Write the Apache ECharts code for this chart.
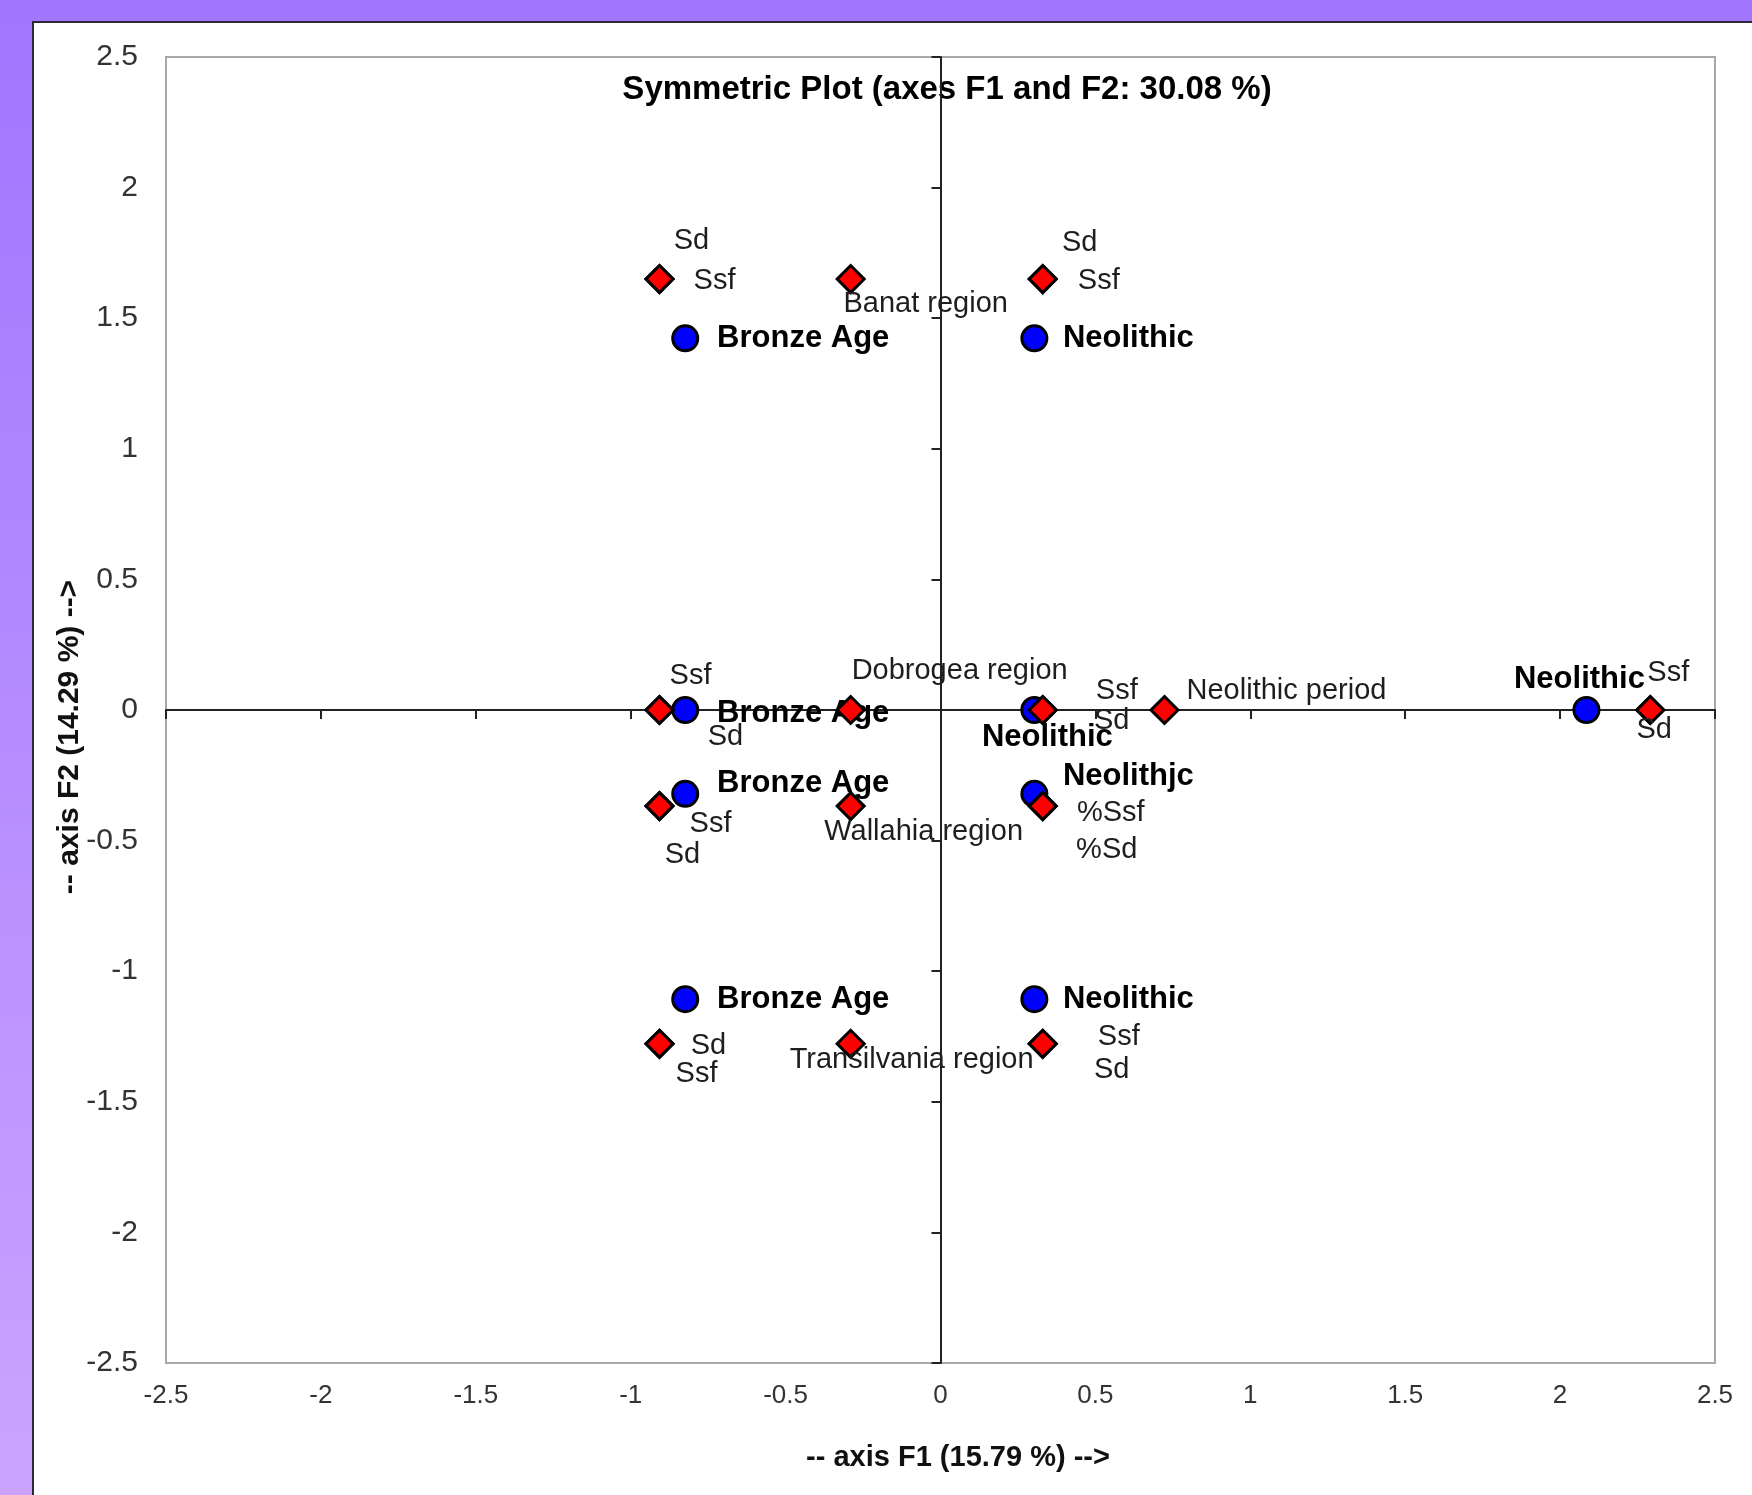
<!DOCTYPE html>
<html>
<head>
<meta charset="utf-8">
<script src="https://cdn.jsdelivr.net/npm/echarts@6/dist/echarts.min.js"></script>
<style>
html, body { margin: 0; padding: 0; }
#chart { width: 1752px; height: 1495px; }
</style>
</head>
<body>
<div id="chart"></div>
<script>
// axis ticks
const xTicks = [-2.5, -2, -1.5, -1, -0.5, 0, 0.5, 1, 1.5, 2, 2.5]
const yTicks = [-2.5, -2, -1.5, -1, -0.5, 0, 0.5, 1, 1.5, 2, 2.5]

// variables (red diamonds)
const diamondNames = [
  'Sd', 'Ssf', 'Banat region', 'Sd', 'Ssf',
  'Ssf', 'Sd', 'Dobrogea region', 'Ssf', 'Sd', 'Neolithic period', 'Ssf', 'Sd',
  'Ssf', 'Sd', 'Wallahia region', '%Ssf', '%Sd',
  'Sd', 'Ssf', 'Transilvania region', 'Ssf', 'Sd'
]
const diamondX = [
  -0.907, -0.907, -0.29, 0.33, 0.33,
  -0.907, -0.907, -0.29, 0.33, 0.33, 0.723, 2.291, 2.291,
  -0.907, -0.907, -0.29, 0.33, 0.33,
  -0.907, -0.907, -0.29, 0.33, 0.33
]
const diamondY = [
  1.65, 1.65, 1.65, 1.65, 1.65,
  0, 0, 0, 0, 0, 0, 0, 0,
  -0.368, -0.368, -0.368, -0.368, -0.368,
  -1.278, -1.278, -1.278, -1.278, -1.278
]

// observations (blue circles)
const circleNames = [
  'Bronze Age', 'Neolithic',
  'Bronze Age', 'Neolithic', 'Neolithic',
  'Bronze Age', 'Neolithjc',
  'Bronze Age', 'Neolithic'
]
const circleX = [-0.824, 0.303, -0.824, 0.303, 2.085, -0.824, 0.303, -0.824, 0.303]
const circleY = [1.423, 1.423, 0, 0, 0, -0.321, -0.321, -1.107, -1.107]

// label placement (pixels from marker centre)
const diamondLabelOffsets = [
  [32, -38], [55, 2], [75, 25], [37, -36], [56, 2],
  [31, -34], [66, 27], [109, -39], [74, -19], [69, 11], [122, -19], [18, -37], [4, 20],
  [51, 18], [23, 49], [73, 26], [68, 7], [64, 44],
  [49, 2], [37, 30], [61, 16], [76, -7], [69, 26]
]
const circleLabelOffsets = [
  [118, 0], [94, 0],
  [118, 3], [13, 27], [-7, -31],
  [118, -10], [94, -17],
  [118, 0], [94, 0]
]

const FONT = "'Liberation Sans', Arial, sans-serif"

function buildData (xs, ys, names, offsets) {
  return xs.map((x, i) => ({
    value: [x, ys[i]],
    name: names[i],
    label: { offset: offsets[i] }
  }))
}

const chart = echarts.init(document.getElementById('chart'))

chart.setOption({
  animation: false,
  backgroundColor: {
    type: 'linear', x: 0, y: 0, x2: 0, y2: 1,
    colorStops: [{ offset: 0, color: '#a176ff' }, { offset: 1, color: '#cba3ff' }]
  },
  graphic: [
    {
      type: 'rect',
      z: -10,
      shape: { x: 33, y: 22, width: 1760, height: 1500 },
      style: { fill: '#ffffff', stroke: '#2c2838', lineWidth: 2 }
    },
    {
      type: 'text',
      x: 947,
      y: 90,
      style: {
        text: 'Symmetric Plot (axes F1 and F2: 30.08 %)',
        font: 'bold 33px ' + FONT,
        fill: '#000',
        align: 'center',
        verticalAlign: 'middle'
      }
    },
    {
      // x axis title
      type: 'text',
      x: 958,
      y: 1458,
      style: {
        text: '-- axis F1 (15.79 %) -->',
        font: 'bold 29px ' + FONT,
        fill: '#111',
        align: 'center',
        verticalAlign: 'middle'
      }
    },
    {
      // y axis title
      type: 'text',
      x: 70,
      y: 737,
      rotation: Math.PI / 2,
      style: {
        text: '-- axis F2 (14.29 %) -->',
        font: 'bold 30px ' + FONT,
        fill: '#111',
        align: 'center',
        verticalAlign: 'middle'
      }
    }
  ],
  grid: {
    left: 166, top: 57, width: 1549, height: 1306,
    show: true, borderColor: '#a8a8a8', borderWidth: 2,
    backgroundColor: 'transparent'
  },
  xAxis: [
    {
      type: 'value', min: -2.5, max: 2.5, interval: 0.5, position: 'bottom',
      axisLine: { show: false, onZero: false },
      axisTick: { show: false },
      splitLine: { show: false },
      axisLabel: { fontFamily: FONT, fontSize: 26, color: '#333', margin: 20 }
    },
    {
      type: 'value', min: -2.5, max: 2.5, interval: 0.5, position: 'bottom',
      axisLine: { show: true, onZero: true, onZeroAxisIndex: 0, lineStyle: { color: '#222', width: 2 } },
      axisTick: { show: true, length: 9, lineStyle: { color: '#222', width: 2 } },
      axisLabel: { show: false },
      splitLine: { show: false }
    }
  ],
  yAxis: [
    {
      type: 'value', min: -2.5, max: 2.5, interval: 0.5, position: 'left',
      axisLine: { show: false, onZero: false },
      axisTick: { show: false },
      splitLine: { show: false },
      axisLabel: { fontFamily: FONT, fontSize: 30, color: '#333', margin: 28 }
    },
    {
      type: 'value', min: -2.5, max: 2.5, interval: 0.5, position: 'left',
      axisLine: { show: true, onZero: true, onZeroAxisIndex: 0, lineStyle: { color: '#222', width: 2 } },
      axisTick: { show: true, length: 9, lineStyle: { color: '#222', width: 2 } },
      axisLabel: { show: false },
      splitLine: { show: false }
    }
  ],
  series: [
    {
      name: 'Observations',
      type: 'scatter',
      xAxisIndex: 0, yAxisIndex: 0,
      z: 3,
      symbol: 'circle',
      symbolSize: 25,
      itemStyle: { color: '#0000ff', borderColor: '#000', borderWidth: 3, opacity: 1 },
      label: {
        show: true, position: 'inside', formatter: '{b}',
        fontFamily: FONT, fontWeight: 'bold', fontSize: 31, color: '#000',
        align: 'center', verticalAlign: 'middle'
      },
      data: buildData(circleX, circleY, circleNames, circleLabelOffsets)
    },
    {
      name: 'Variables',
      type: 'scatter',
      xAxisIndex: 0, yAxisIndex: 0,
      z: 4,
      symbol: 'diamond',
      symbolSize: 27,
      itemStyle: { color: '#ff0000', borderColor: '#000', borderWidth: 3, opacity: 1 },
      label: {
        show: true, position: 'inside', formatter: '{b}',
        fontFamily: FONT, fontSize: 29, color: '#1e1e1e',
        align: 'center', verticalAlign: 'middle'
      },
      data: buildData(diamondX, diamondY, diamondNames, diamondLabelOffsets)
    }
  ]
})
</script>
</body>
</html>
